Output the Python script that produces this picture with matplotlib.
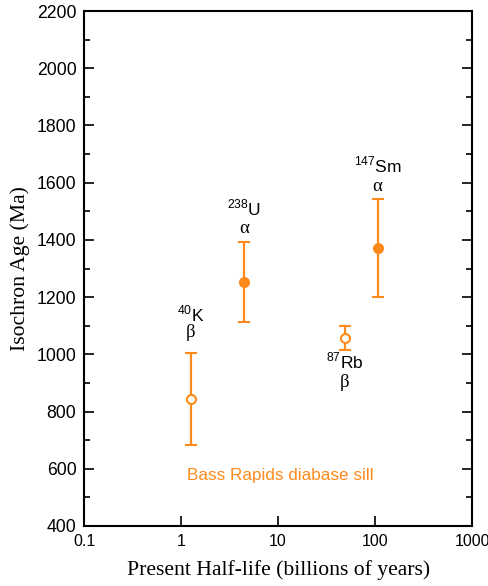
import matplotlib
matplotlib.use('Agg')
import matplotlib.pyplot as plt
from matplotlib.ticker import FixedLocator, MultipleLocator, NullLocator

# isotope data
isotopes = ['40K', '238U', '87Rb', '147Sm']
masses = ['40', '238', '87', '147']
symbols = ['K', 'U', 'Rb', 'Sm']
decay = ['β', 'α', 'β', 'α']
half_life = [1.25, 4.47, 48.8, 106]
age = [845, 1253, 1057, 1373]
err_hi = [160, 139, 43, 170]
err_lo = [162, 141, 42, 171]
filled = [False, True, False, True]
label_y = [1140, 1510, 975, 1660]
decay_y = [1075, 1440, 900, 1585]

xticks = [0.1, 1, 10, 100, 1000]
xticklabels = ['0.1', '1', '10', '100', '1000']

orange = '#FF8A1C'

fig = plt.figure(figsize=(4.89, 5.86), dpi=100)
ax = fig.add_axes([0.172, 0.1024, 0.7935, 0.8788])

for i in range(len(isotopes)):
    face = orange if filled[i] else 'white'
    ax.errorbar(half_life[i], age[i], yerr=[[err_lo[i]], [err_hi[i]]],
                fmt='o', color=orange, mfc=face, mec=orange, mew=1.5,
                ms=6.5, elinewidth=1.6, capsize=4, capthick=1.6)
    ax.text(half_life[i], label_y[i],
            r'$^{\mathregular{%s}}$%s' % (masses[i], symbols[i]),
            ha='center', va='center', fontsize=12.5, family='Liberation Sans')
    ax.text(half_life[i], decay_y[i], decay[i], ha='center', va='center',
            fontsize=13.5, family='Liberation Serif')

ax.text(10.5, 578, 'Bass Rapids diabase sill', color=orange, ha='center', va='center',
        fontsize=12.3, family='Liberation Sans')

ax.set_xscale('log')
ax.set_xlim(0.1, 1000)
ax.set_ylim(400, 2200)
ax.xaxis.set_major_locator(FixedLocator(xticks))
ax.xaxis.set_minor_locator(NullLocator())
ax.set_xticklabels(xticklabels)
ax.yaxis.set_major_locator(MultipleLocator(200))
ax.yaxis.set_minor_locator(MultipleLocator(100))

for s in ax.spines.values():
    s.set_linewidth(1.5)
ax.tick_params(which='both', direction='in', width=1.2, right=True, top=False)
ax.tick_params(which='major', length=7)
ax.tick_params(axis='y', which='major', pad=5.5, labelsize=12.7)
ax.tick_params(axis='x', which='major', pad=6, labelsize=11.5)
ax.tick_params(which='minor', length=4)
for lab in ax.get_xticklabels() + ax.get_yticklabels():
    lab.set_family('Liberation Sans')

ax.set_xlabel('Present Half-life (billions of years)', family='Liberation Serif',
              fontsize=15.6, labelpad=8)
ax.set_ylabel('Isochron Age (Ma)', family='Liberation Serif', fontsize=15.6,
              labelpad=5)

fig.savefig('out.png', dpi=100)
